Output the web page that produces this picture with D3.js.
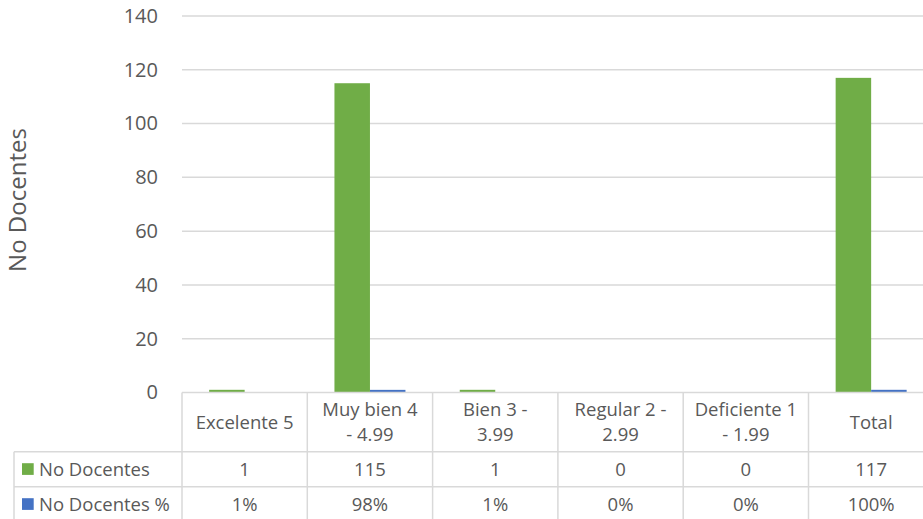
<!DOCTYPE html>
<html>
<head>
<meta charset="utf-8">
<script src="https://cdn.jsdelivr.net/npm/d3@7"></script>
<style>
  body { margin: 0; background: #fff; }
  svg { display: block; font-family: "Open Sans", "Noto Sans", sans-serif; }
</style>
</head>
<body>
<div id="chart"></div>
<script>
// data
var categories = ["Excelente 5", "Muy bien 4\n- 4.99", "Bien 3 -\n3.99", "Regular 2 -\n2.99", "Deficiente 1\n- 1.99", "Total"];
var seriesNames = ["No Docentes", "No Docentes %"];
var counts = [1, 115, 1, 0, 0, 117];
var shares = [0.01, 0.98, 0.01, 0, 0, 1];
var yTicks = [0, 20, 40, 60, 80, 100, 120, 140];
var colors = ["#70AD47", "#4472C4"];

var W = 923, H = 519;
var left = 182, colW = 125.3;
var y0 = 392.5, yTop = 16;
var headerBottom = 451.7, rowH = 35;
var legendLeft = 14;
var grid = "#D9D9D9", txt = "#595959";
var fs = "18.5px";

var svg = d3.select("#chart").append("svg")
  .attr("width", W).attr("height", H);

var x = d3.scaleBand()
  .domain(d3.range(categories.length))
  .range([left, left + colW * categories.length])
  .padding(0);

var barW = 35.5;
var inner = d3.scaleBand().domain(d3.range(seriesNames.length))
  .range([x.bandwidth() / 2 - barW, x.bandwidth() / 2 + barW]);

var y = d3.scaleLinear().domain([0, 140]).range([y0, yTop]);
var xEnd = left + colW * categories.length;

// gridlines
svg.append("g").selectAll("line")
  .data(yTicks.filter(function(d) { return d > 0; }))
  .join("line")
  .attr("x1", left).attr("x2", xEnd)
  .attr("y1", function(d) { return y(d); }).attr("y2", function(d) { return y(d); })
  .attr("stroke", grid).attr("stroke-width", 1.5);

// y axis labels
var yAxis = d3.axisLeft(y).tickValues(yTicks).tickSize(0).tickPadding(0);
var ya = svg.append("g").attr("transform", "translate(158,0)").call(yAxis);
ya.select(".domain").remove();
ya.selectAll("text").attr("fill", txt).style("font-size", "20px")
  .style("font-family", "'Open Sans', sans-serif");

svg.append("text")
  .attr("transform", "translate(26,200) rotate(-90)")
  .attr("text-anchor", "middle")
  .attr("fill", txt).style("font-size", "24px")
  .text("No Docentes");

// bars
var series = [counts, shares];
var groups = svg.append("g").selectAll("g")
  .data(series).join("g")
  .attr("fill", function(d, i) { return colors[i]; });

groups.each(function(vals, si) {
  d3.select(this).selectAll("rect")
    .data(vals).join("rect")
    .attr("x", function(d, i) { return x(i) + inner(si); })
    .attr("width", inner.bandwidth())
    .attr("y", function(d) { return y(d); })
    .attr("height", function(d) { return y0 - y(d); });
});

// data table
var tbl = svg.append("g").attr("stroke", grid).attr("stroke-width", 1.5);
var rowsBottom = headerBottom + rowH * 2;
// top of table (category axis)
tbl.append("line").attr("x1", left).attr("x2", xEnd).attr("y1", y0).attr("y2", y0);
// row separators
[headerBottom, headerBottom + rowH, rowsBottom].forEach(function(yy) {
  tbl.append("line").attr("x1", legendLeft).attr("x2", xEnd).attr("y1", yy).attr("y2", yy);
});
// column borders
d3.range(categories.length + 1).forEach(function(i) {
  var xx = left + colW * i;
  tbl.append("line").attr("x1", xx).attr("x2", xx).attr("y1", y0).attr("y2", rowsBottom);
});
tbl.append("line").attr("x1", legendLeft).attr("x2", legendLeft)
  .attr("y1", headerBottom).attr("y2", rowsBottom);

// header labels
var hdr = svg.append("g").attr("fill", txt).style("font-size", fs)
  .attr("text-anchor", "middle");
categories.forEach(function(c, i) {
  var lines = c.split("\n");
  var cy = (y0 + headerBottom) / 2;
  var lh = 25;
  var t = hdr.append("text").attr("x", x(i) + x.bandwidth() / 2);
  lines.forEach(function(l, k) {
    t.append("tspan")
      .attr("x", x(i) + x.bandwidth() / 2)
      .attr("y", cy + (k - (lines.length - 1) / 2) * lh)
      .attr("dy", "0.35em")
      .text(l);
  });
});

// value rows
var pct = d3.format(".0%");
var rowTexts = [counts.map(String), shares.map(pct)];
rowTexts.forEach(function(vals, r) {
  var cy = headerBottom + rowH * r + rowH / 2;
  svg.append("g").attr("fill", txt).style("font-size", fs)
    .attr("text-anchor", "middle")
    .selectAll("text").data(vals).join("text")
    .attr("x", function(d, i) { return x(i) + x.bandwidth() / 2; })
    .attr("y", cy).attr("dy", "0.35em")
    .text(function(d) { return d; });
  // legend key
  svg.append("rect")
    .attr("x", 22).attr("y", cy - 6)
    .attr("width", 11.7).attr("height", 11.7)
    .attr("fill", colors[r]);
  svg.append("text")
    .attr("x", 39).attr("y", cy).attr("dy", "0.35em")
    .attr("fill", txt).style("font-size", fs)
    .text(seriesNames[r]);
});
</script>
</body>
</html>
